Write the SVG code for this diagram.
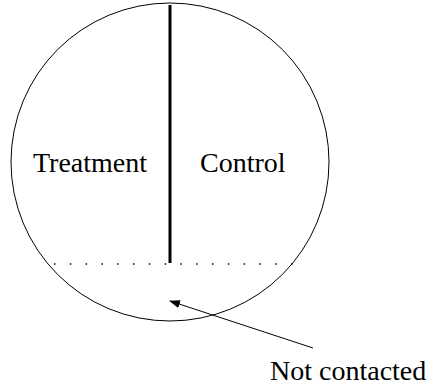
<svg xmlns="http://www.w3.org/2000/svg" width="431" height="390" viewBox="0 0 431 390">
<style>
text{font-family:"Liberation Serif","Times New Roman",serif;font-size:28px;fill:#000}
</style>
<defs>
<marker id="ah" markerWidth="11" markerHeight="8" refX="10" refY="4" orient="auto" markerUnits="userSpaceOnUse">
<path d="M0,0 L11,4 L0,8 Z" fill="#000"/>
</marker>
</defs>
<rect width="431" height="390" fill="#fff"/>
<g id="population">
<circle cx="170" cy="162" r="159" fill="none" stroke="#000" stroke-width="1"/>
</g>
<g id="divider">
<line x1="170" y1="5" x2="170" y2="263" stroke="#000" stroke-width="3"/>
<line x1="54" y1="264" x2="293" y2="264" stroke="#000" stroke-width="1.6" stroke-dasharray="1.5 14.3"/>
</g>
<g id="treatment"><text x="33" y="172">Treatment</text></g>
<g id="control"><text x="200" y="172">Control</text></g>
<g id="notcontacted"><text x="270" y="380">Not contacted</text></g>
<g id="connectors">
<line x1="313" y1="348" x2="170" y2="301" stroke="#000" stroke-width="1" marker-end="url(#ah)"/>
</g>
</svg>
